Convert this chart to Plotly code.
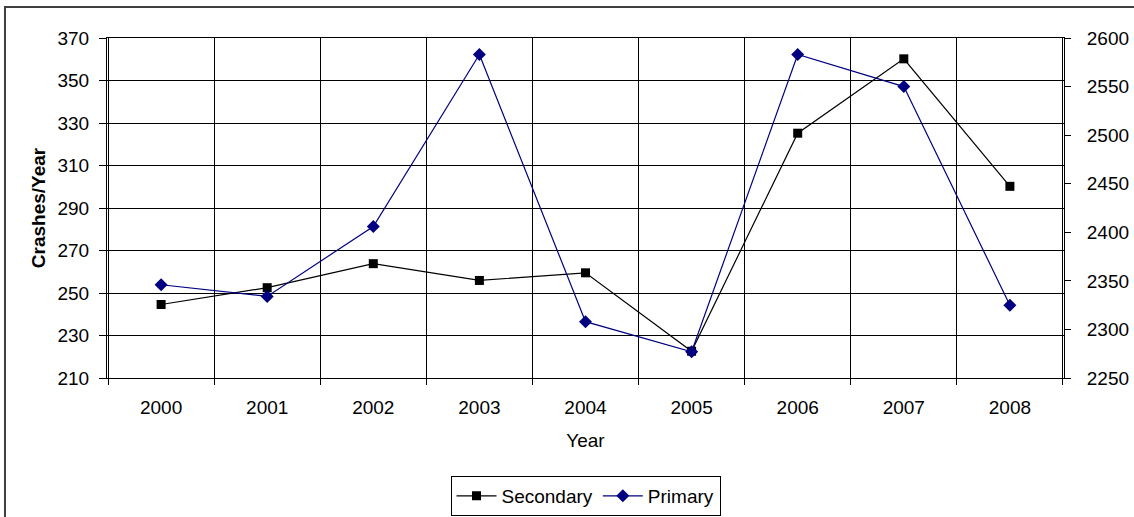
import plotly.graph_objects as go

# crash counts per year
years = ["2000", "2001", "2002", "2003", "2004", "2005", "2006", "2007", "2008"]
secondary = [244.6, 252.5, 263.8, 255.9, 259.5, 222.6, 325.2, 360.2, 300.2]
primary = [2346, 2334, 2406, 2583, 2308, 2277, 2583, 2550, 2325]

FONT = "Liberation Sans, Arial, sans-serif"

trace_sec = go.Scatter(
    x=years, y=secondary, name="Secondary",
    mode="lines+markers",
    line=dict(color="#000000", width=1.2),
    marker=dict(symbol="square", size=9, color="#000000"),
    yaxis="y",
)
trace_pri = go.Scatter(
    x=years, y=primary, name="Primary",
    mode="lines+markers",
    line=dict(color="#000080", width=1.2),
    marker=dict(symbol="diamond", size=10, color="#000080"),
    yaxis="y2",
)

layout = go.Layout(
    width=1134, height=517,
    margin=dict(l=107, r=70, t=38, b=139),
    paper_bgcolor="white", plot_bgcolor="white",
    font=dict(family=FONT, size=19, color="black"),
    showlegend=True,
    legend=dict(
        orientation="h", x=0.5, xanchor="center",
        yref="container", y=0.0793, yanchor="top",
        bordercolor="black", borderwidth=1, itemwidth=40,
        font=dict(size=19),
    ),
    xaxis=dict(
        type="category", tickson="boundaries", automargin=False,
        showgrid=True, gridcolor="black", gridwidth=1,
        showline=True, linecolor="black", linewidth=1, mirror=True,
        ticks="outside", ticklen=6, tickcolor="black",
        ticklabelstandoff=12,
        title=dict(text="Year", standoff=16, font=dict(size=19)),
    ),
    yaxis=dict(
        range=[210, 370], tick0=210, dtick=20, automargin=False,
        showgrid=True, gridcolor="black", gridwidth=1,
        showline=True, linecolor="black", linewidth=1,
        ticks="outside", ticklen=7, tickcolor="black",
        ticklabelstandoff=6, zeroline=False,
        title=dict(text="<b>Crashes/Year</b>", standoff=6, font=dict(size=19)),
    ),
    yaxis2=dict(
        range=[2250, 2600], tick0=2250, dtick=50, overlaying="y", side="right",
        automargin=False,
        showgrid=False, showline=True, linecolor="black", linewidth=1,
        ticks="outside", ticklen=6, tickcolor="black",
        ticklabelstandoff=12, zeroline=False,
    ),
    # inner half of the cross-style ticks on the right axis
    yaxis3=dict(
        range=[2250, 2600], tick0=2250, dtick=50, overlaying="y", side="right",
        automargin=False, showgrid=False, showline=False, zeroline=False,
        showticklabels=False, ticks="inside", ticklen=6, tickcolor="black",
    ),
    shapes=[dict(
        type="rect", xref="paper", yref="paper",
        x0=-0.1066, x1=1.2, y0=-0.7, y1=1.0912,
        line=dict(color="#404040", width=2),
    )],
)

fig = go.Figure(data=[trace_sec, trace_pri], layout=layout)
fig.write_html(
    "out.html",
    config={"displayModeBar": False},
    post_script="document.body.style.margin='0';document.body.style.overflow='hidden';",
)
